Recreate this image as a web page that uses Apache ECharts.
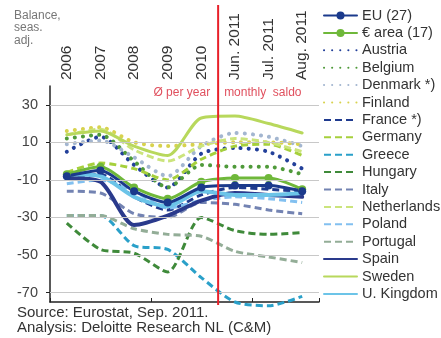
<!DOCTYPE html>
<html>
<head>
<meta charset="utf-8">
<script src="https://cdn.jsdelivr.net/npm/echarts@6/dist/echarts.min.js"></script>
<style>
  html, body { margin: 0; padding: 0; background: #fff; }
  #chart { width: 441px; height: 338px; }
</style>
</head>
<body>
<div id="chart"></div>
<script>
// Periods on the category axis
const categories = ['2006', '2007', '2008', '2009', '2010', 'Jun. 2011', 'Jul. 2011', 'Aug. 2011'];

// Consumer confidence balance, seasonally adjusted (yearly average, then monthly)
const eu27        = [-8, -5, -16, -22, -14, -13, -13, -16];
const euroArea    = [-7, -3, -14, -20, -11, -9, -9, -15];
const austria     = [5, 13, -2, -14, 4, 7, 5, -4];
const belgium     = [12, 14, 0, -14, -2, -3, -3, -7];
const denmark     = [9, 11, 2, -8, 8, 15, 13, 8];
const finland     = [16, 18, 10, 8, 9, 10, 10, 9];
const france      = [-9, -7, -19, -26, -18, -14, -15, -16];
const germany     = [-6, -1, -4, -10, 1, 8, 9, 3];
const greece      = [-29, -29, -45, -47, -62, -75, -77, -72];
const hungary     = [-33, -47, -49, -59, -30, -37, -39, -38];
const italy       = [-16, -17, -28, -30, -22, -23, -26, -28];
const netherlands = [14, 17, 6, 0, 8, 12, 10, 5];
const poland      = [-12, -10, -16, -25, -21, -19, -20, -22];
const portugal    = [-29, -29, -36, -39, -40, -48, -51, -54];
const spain       = [-9, -11, -34, -29, -21, -17, -18, -19];
const sweden      = [14, 16, 8, 3, 23, 24, 20, 15];
const uk          = [-7, -8, -19, -24, -16, -18, -18, -17];

// Y axis tick labels and gridlines
const yTicks = [-70, -50, -30, -10, 10, 30];

const FONT = 'Liberation Sans, Arial, sans-serif';
const DOT = [0.1, 8];
const DASH = [7, 4];

function solid(name, data, color, width, extra) {
  return Object.assign({
    name, type: 'line', data, smooth: 0.25, symbol: 'none', clip: false,
    lineStyle: { color, width, cap: 'round', join: 'round' },
    itemStyle: { color }
  }, extra || {});
}
function dotted(name, data, color) {
  return {
    name, type: 'line', data, smooth: 0.25, symbol: 'none', clip: false,
    lineStyle: { color, width: 4, type: DOT, cap: 'round' },
    itemStyle: { color }
  };
}
function dashed(name, data, color) {
  return {
    name, type: 'line', data, smooth: 0.25, symbol: 'none', clip: false,
    lineStyle: { color, width: 3, type: DASH },
    itemStyle: { color }
  };
}

const series = [
  // horizontal gridlines
  {
    name: '', type: 'line', data: [], z: 1, silent: true,
    markLine: {
      silent: true, symbol: 'none', label: { show: false },
      lineStyle: { color: '#c8c8c8', width: 1, type: 'solid' },
      data: yTicks.map(v => ({ yAxis: v }))
    }
  },
  dotted('Austria', austria, '#23409a'),
  dotted('Belgium', belgium, '#4f9a3a'),
  dotted('Denmark *)', denmark, '#a3b6d0'),
  dotted('Finland', finland, '#d8d24e'),
  dashed('France *)', france, '#1f3b8f'),
  dashed('Germany', germany, '#a6d03c'),
  dashed('Greece', greece, '#2aa0c9'),
  dashed('Hungary', hungary, '#3f8a3a'),
  dashed('Italy', italy, '#7383b2'),
  dashed('Netherlands', netherlands, '#cbe47c'),
  dashed('Poland', poland, '#82c0f0'),
  dashed('Portugal', portugal, '#93ad97'),
  solid('Spain', spain, '#2a3a8c', 4),
  solid('Sweden', sweden, '#b8d85c', 3),
  solid('U. Kingdom', uk, '#6cc4e8', 4),
  solid('€ area (17)', euroArea, '#6fb83a', 3, { symbol: 'circle', symbolSize: 8 }),
  solid('EU (27)', eu27, '#1b3a8c', 3, { symbol: 'circle', symbolSize: 8 })
];

// Only the two aggregates carry a marker in the legend
const withMarker = ['EU (27)', '€ area (17)'];
const legendNames = ['EU (27)', '€ area (17)', 'Austria', 'Belgium', 'Denmark *)', 'Finland',
  'France *)', 'Germany', 'Greece', 'Hungary', 'Italy', 'Netherlands', 'Poland', 'Portugal',
  'Spain', 'Sweden', 'U. Kingdom'];

const chart = echarts.init(document.getElementById('chart'), null, { renderer: 'canvas' });

chart.setOption({
  animation: false,
  backgroundColor: '#ffffff',
  textStyle: { fontFamily: FONT },
  grid: { left: 50, right: 122, top: 86, bottom: 36, containLabel: false },
  legend: {
    data: legendNames.map(n => withMarker.includes(n) ? { name: n } : { name: n, itemStyle: { opacity: 0 } }),
    orient: 'vertical',
    left: 318, top: 3,
    itemWidth: 33, itemHeight: 10, itemGap: 2.4,
    textStyle: { fontFamily: FONT, fontSize: 14.5, lineHeight: 15, color: '#333' }
  },
  xAxis: [
    {
      type: 'category', data: categories, position: 'top',
      axisLine: { show: false }, axisTick: { show: false },
      axisLabel: { rotate: 90, margin: 6, fontSize: 15.5, color: '#333', fontFamily: FONT, interval: 0 }
    },
    {
      type: 'category', data: categories, position: 'bottom',
      axisLine: { onZero: true, lineStyle: { color: '#222', width: 1.5 } },
      axisTick: { show: true, inside: true, length: 4, lineStyle: { color: '#222' } },
      axisLabel: { show: false }
    }
  ],
  yAxis: {
    type: 'value', min: -75, max: 40,
    axisLine: { show: true, lineStyle: { color: '#222', width: 1.5 } },
    axisTick: { show: true, length: 4, customValues: yTicks, lineStyle: { color: '#222' } },
    axisLabel: { customValues: yTicks, fontSize: 14.5, color: '#444', margin: 12, fontFamily: FONT },
    splitLine: { show: false }
  },
  series: series
});

// Divider between yearly averages and monthly values
const x2010 = chart.convertToPixel({ xAxisIndex: 0 }, '2010');
const xJun = chart.convertToPixel({ xAxisIndex: 0 }, 'Jun. 2011');
const xDiv = (x2010 + xJun) / 2;
const yTop = chart.convertToPixel({ yAxisIndex: 0 }, 40);

chart.setOption({
  graphic: [
    { type: 'line', z: 100, shape: { x1: xDiv, y1: 5, x2: xDiv, y2: 305 },
      style: { stroke: '#e8202a', lineWidth: 2 } },
    { type: 'text', x: xDiv - 8, y: yTop + 7,
      style: { text: 'Ø per year', fill: '#e0505e', font: '12px ' + FONT, align: 'right', verticalAlign: 'middle' } },
    { type: 'text', x: xDiv + 6, y: yTop + 7,
      style: { text: 'monthly  saldo', fill: '#e0505e', font: '12px ' + FONT, align: 'left', verticalAlign: 'middle' } },
    { type: 'text', x: 14, y: 9,
      style: { text: 'Balance,\nseas.\nadj.', fill: '#777', font: '12px ' + FONT, lineHeight: 12.5 } },
    { type: 'text', x: 17, y: 305,
      style: { text: 'Source: Eurostat, Sep. 2011.\nAnalysis: Deloitte Research NL (C&M)', fill: '#333', font: '15px ' + FONT, lineHeight: 15 } }
  ]
});
</script>
</body>
</html>
